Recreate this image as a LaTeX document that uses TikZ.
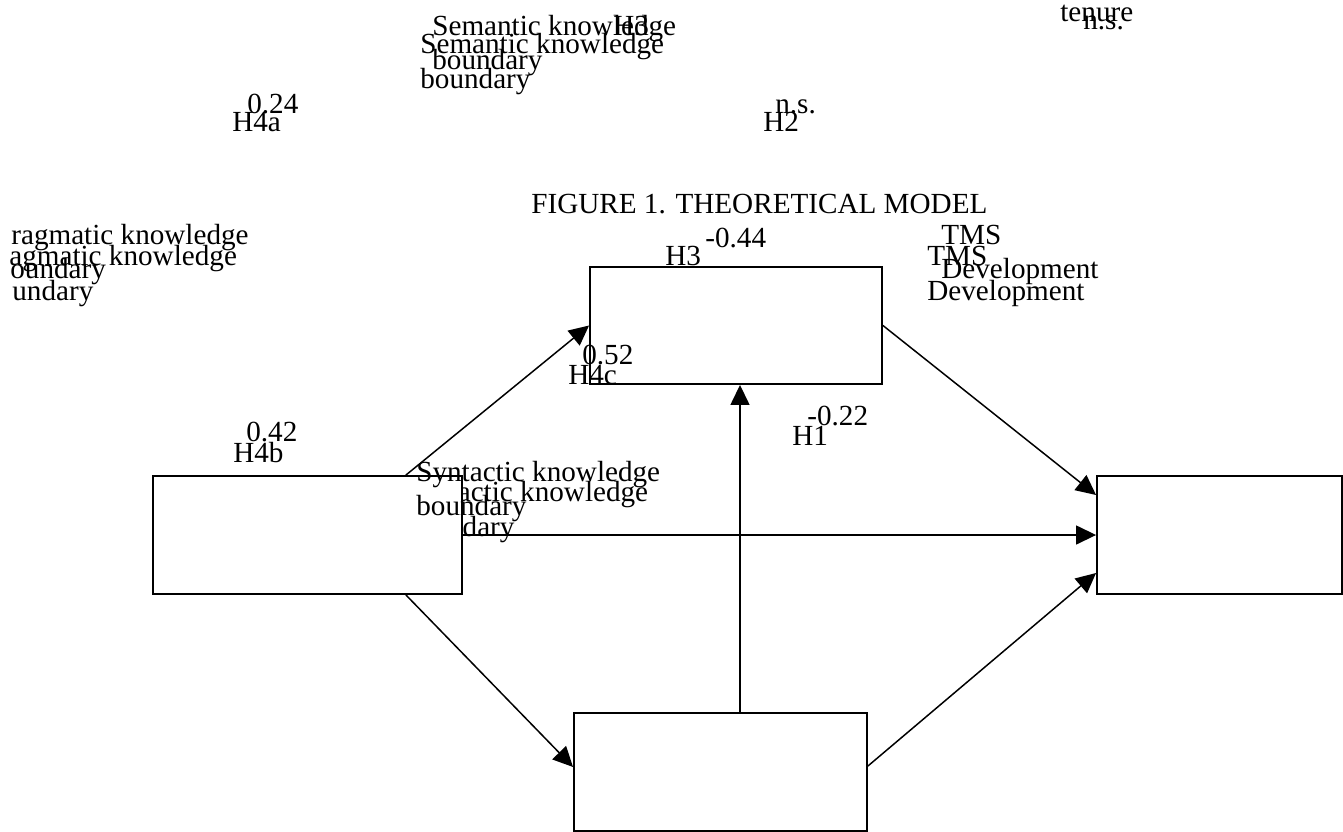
\documentclass[tikz,border=0pt]{standalone}
\usepackage{fontspec}
\setmainfont{Liberation Serif}
\usetikzlibrary{arrows.meta,calc}

\begin{document}
\begin{tikzpicture}[
    x=0.02cm, y=-0.02cm,
    font=\fontsize{16.6}{19.3}\selectfont,
    box/.style={draw, line width=1.1pt, fill=white, inner sep=0pt},
    lbl/.style={anchor=base west, inner sep=0pt},
    arrow/.style={-{Triangle[length=0.4cm, width=0.38cm]}, line width=0.85pt}
  ]
  \useasboundingbox (0,0) rectangle (1343,832);

  % second copy of the syntactic label, hidden behind its box
  \node[lbl] (syntB1) at (404,501) {Syntactic knowledge};
  \node[lbl] (syntB2) at (404,536) {boundary};

  % boxes
  \node[box, minimum width=6.18cm, minimum height=2.36cm] (synt) at (307.5,535) {};
  \node[box, minimum width=5.84cm, minimum height=2.34cm] (sem) at (736,325.5) {};
  \node[box, minimum width=4.90cm, minimum height=2.36cm] (tms) at (1219.5,535) {};
  \node[box, minimum width=5.86cm, minimum height=2.36cm] (prag) at (720.5,772) {};
  \coordinate (vx) at (740,0);

  % paths
  \draw[arrow] ($(synt.north east)+(-57,0)$) -- (sem.west);
  \draw[arrow] ($(synt.south east)+(-57,0)$) -- ($(prag.west)+(0,-5)$);
  \draw[arrow] (synt.east) -- (tms.west);
  \draw[arrow] (sem.east) -- ($(tms.west)+(0,-40)$);
  \draw[arrow] ($(prag.east)+(0,-6)$) -- ($(tms.west)+(0,38)$);
  \draw[arrow] (prag.north -| vx) -- (sem.south -| vx);

  % variable labels (each set twice)
  \node[lbl] (semA1) at (432,35) {Semantic knowledge};
  \node[lbl] (semA2) at (432,69) {boundary};
  \node[lbl] (semB1) at (420,53) {Semantic knowledge};
  \node[lbl] (semB2) at (420,88) {boundary};
  \node[lbl] (pragA1) at (11,244) {ragmatic knowledge};
  \node[lbl] (pragA2) at (10,278) {oundary};
  \node[lbl] (pragB1) at (9,265) {agmatic knowledge};
  \node[lbl] (pragB2) at (12,300) {undary};
  \node[lbl] (syntA1) at (416,481) {Syntactic knowledge};
  \node[lbl] (syntA2) at (416,515) {boundary};
  \node[lbl] (tmsA1) at (941,244) {TMS};
  \node[lbl] (tmsA2) at (941,278) {Development};
  \node[lbl] (tmsB1) at (927,265) {TMS};
  \node[lbl] (tmsB2) at (927,300) {Development};
  \node[lbl] (ten) at (1060,21) {tenure};
  \node[lbl] (tenns) at (1083,29) {n.s.};
  \node[lbl] (htop) at (613,35) {H3};

  % coefficients and hypotheses
  \node[lbl] (c4a) at (247,113) {0.24};
  \node[lbl] (h4a) at (232,131) {H4a};
  \node[lbl] (c2) at (775,113) {n.s.};
  \node[lbl] (h2) at (763,131) {H2};
  \node[lbl] (c3) at (705,247) {-0.44};
  \node[lbl] (h3) at (665,265) {H3};
  \node[lbl] (c4c) at (582,364) {0.52};
  \node[lbl] (h4c) at (568,384) {H4c};
  \node[lbl] (c4b) at (246,441) {0.42};
  \node[lbl] (h4b) at (233,462) {H4b};
  \node[lbl] (c1) at (807,425) {-0.22};
  \node[lbl] (h1) at (792,445) {H1};

  \node[lbl] (title) at (531,213) {FIGURE 1. THEORETICAL MODEL};
\end{tikzpicture}
\end{document}
